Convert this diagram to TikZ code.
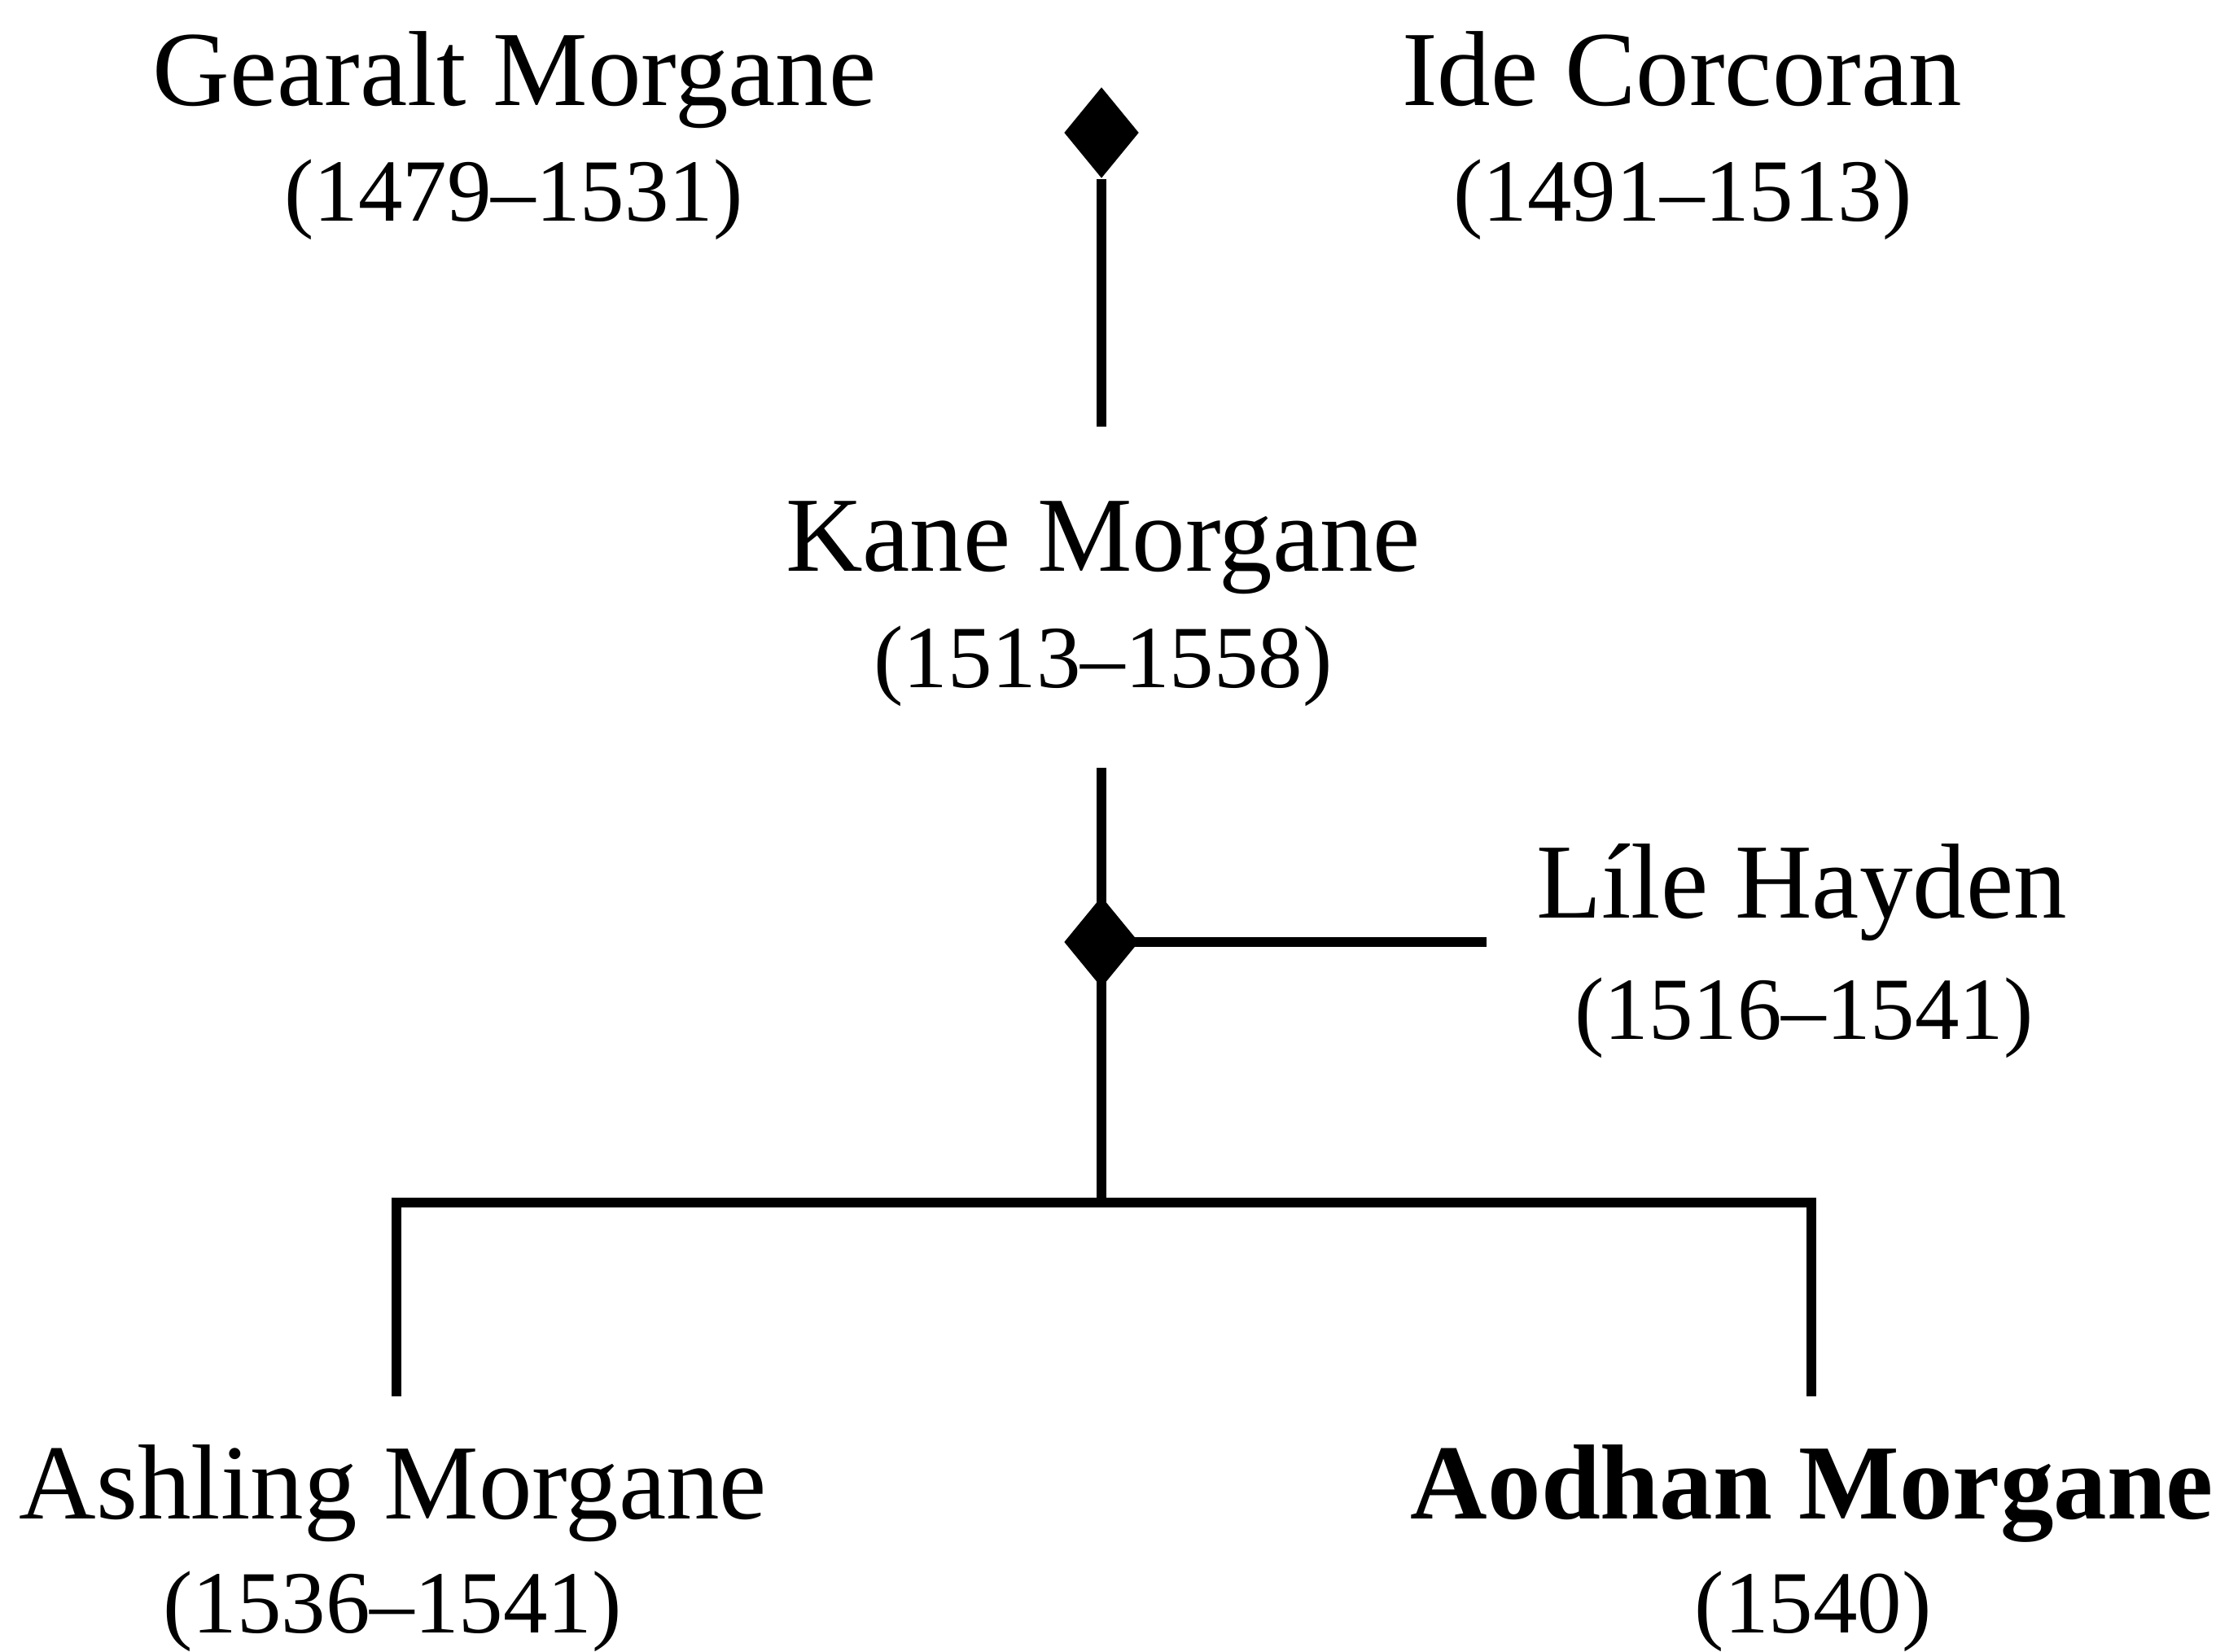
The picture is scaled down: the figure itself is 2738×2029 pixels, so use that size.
\documentclass[tikz,border=0pt]{standalone}
\usepackage{fontspec}
\setmainfont{Liberation Serif}
\usetikzlibrary{shapes.geometric}
\begin{document}
\begin{tikzpicture}[x=0.25pt,y=-0.25pt,
  personname/.style={font=\fontsize{32.75pt}{36pt}\selectfont, inner sep=0pt, anchor=base},
  persondates/.style={font=\fontsize{27.25pt}{30pt}\selectfont, inner sep=0pt, anchor=base},
  union/.style={diamond, fill=black, draw=none, inner sep=0pt, minimum width=23pt, minimum height=28pt},
  link/.style={line width=3pt, line join=miter}]
\useasboundingbox (0,0) rectangle (2738,2029);

% people
\node[personname] (gearalt) at (632,130) {Gearalt Morgane};
\node[persondates] (gearaltd) at (631,272) {(1479–1531)};
\node[personname] (ide) at (2066,130) {Ide Corcoran};
\node[persondates] (ided) at (2067,272) {(1491–1513)};
\node[personname] (kane) at (1355,702) {Kane Morgane};
\node[persondates] (kaned) at (1355,845) {(1513–1558)};
\node[personname] (lile) at (2213,1128) {Líle Hayden};
\node[persondates] (liled) at (2216,1277) {(1516–1541)};
\node[personname] (ashling) at (483,1865) {Ashling Morgane};
\node[persondates] (ashlingd) at (482,2005) {(1536–1541)};
\node[personname,font=\fontsize{32.75pt}{36pt}\selectfont\bfseries] (aodhan) at (2226,1865) {Aodhan Morgane};
\node[persondates] (aodhand) at (2227,2005) {(1540)};

% unions
\node[union] (m1) at (1353,163) {};
\node[union] (m2) at (1353,1157) {};

% connector end points
\coordinate (kanetop) at (1353,524);
\coordinate (kanebot) at (1353,943);
\coordinate (fork) at (1353,1477);
\coordinate (lileend) at (1826,1157);
\coordinate (ashtop) at (487,1477);
\coordinate (aodtop) at (2225,1477);
\coordinate (ashend) at (487,1715);
\coordinate (aodend) at (2225,1715);

% connectors
\draw[link] (m1.south) -- (kanetop);
\draw[link] (kanebot) -- (fork);
\draw[link] (m2.center) -- (lileend);
\draw[link] (ashend) -- (ashtop) -- (aodtop) -- (aodend);
\end{tikzpicture}
\end{document}
